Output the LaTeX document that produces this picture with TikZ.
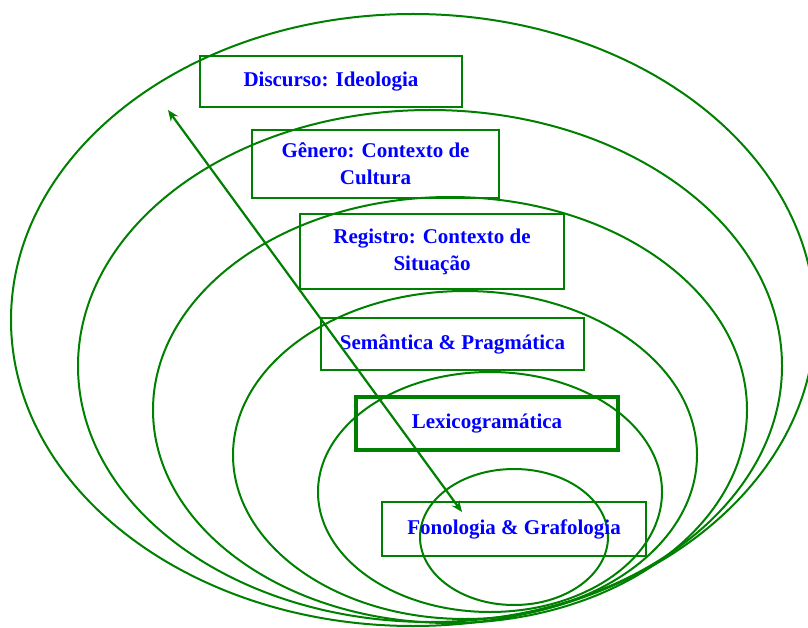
\documentclass[tikz,border=0pt]{standalone}
\usepackage{fontspec}
\setmainfont{Liberation Serif}
\usetikzlibrary{arrows.meta}
\definecolor{dgreen}{RGB}{0,128,0}
\definecolor{tblue}{RGB}{0,0,255}
\begin{document}
\begin{tikzpicture}[x=1pt,y=-1pt,
  ring/.style={draw=dgreen,line width=2pt},
  levelbox/.style={draw=dgreen,line width=2.5pt,text=tblue,align=center,inner sep=0pt,
    font=\fontsize{21}{27}\selectfont\bfseries},
  link/.style={draw=dgreen,line width=2.2pt,{Stealth[length=11pt,width=9pt]}-{Stealth[length=11pt,width=9pt]}}]
\useasboundingbox (0,0) rectangle (808,628);
\clip (0,0) rectangle (808,628);
% nested rings
\draw[ring] (413,320) ellipse [x radius=402pt, y radius=306pt];
\draw[ring] (430,366) ellipse [x radius=352pt, y radius=256pt];
\draw[ring] (450,410) ellipse [x radius=297pt, y radius=213pt];
\draw[ring] (465,455) ellipse [x radius=232pt, y radius=164pt];
\draw[ring] (490,492) ellipse [x radius=172pt, y radius=120pt];
\draw[ring] (514,537) ellipse [x radius=94pt, y radius=68pt];
% level boxes
\node[levelbox,minimum width=262pt,minimum height=51pt] (disc) at (331,81.5) {Discurso: Ideologia};
\node[levelbox,minimum width=247pt,minimum height=68pt] (gen) at (375.5,164) {Gênero: Contexto de\\Cultura};
\node[levelbox,minimum width=264pt,minimum height=75pt] (reg) at (432,251.5) {Registro: Contexto de\\Situação};
\node[levelbox,minimum width=263pt,minimum height=52pt] (sem) at (452.5,344) {Semântica \& Pragmática};
\node[levelbox,line width=3.5pt,minimum width=262pt,minimum height=53pt] (lex) at (487,423.5) {Lexicogramática};
\node[levelbox,minimum width=264pt,minimum height=54pt] (fon) at (514,529) {Fonologia \& Grafologia};
% double arrow
\coordinate (atop) at (168,110);
\coordinate (abot) at (462,512);
\draw[link] (atop) -- (abot);
\end{tikzpicture}
\end{document}
